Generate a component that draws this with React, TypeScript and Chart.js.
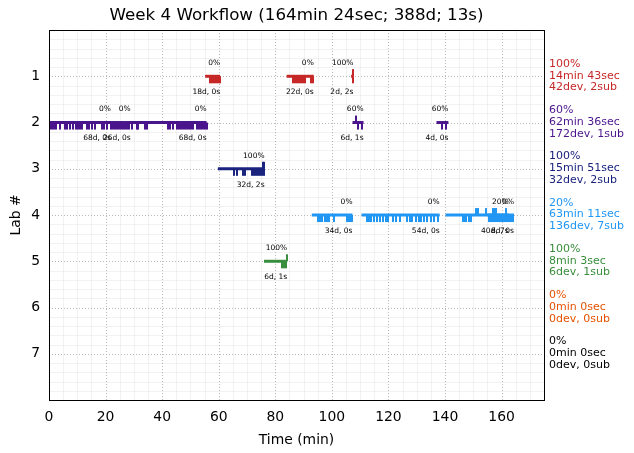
import React, { useEffect, useRef } from "react";
import { Chart, registerables } from "chart.js";

Chart.register(...registerables);

const FONT = '"DejaVu Sans", "Liberation Sans", sans-serif';
const TITLE = "Week 4 Workflow (164min 24sec; 388d; 13s)";

// Per-lab summary (right side)
const labs = [1, 2, 3, 4, 5, 6, 7];
const labColors = ["#c62828", "#4a148c", "#1a237e", "#2196f3", "#388e3c", "#e65100", "#000000"];
const labScore = ["100%", "60%", "100%", "20%", "100%", "0%", "0%"];
const labTime = ["14min 43sec", "62min 36sec", "15min 51sec", "63min 11sec", "8min 3sec", "0min 0sec", "0min 0sec"];
const labWork = ["42dev, 2sub", "172dev, 1sub", "32dev, 2sub", "136dev, 7sub", "6dev, 1sub", "0dev, 0sub", "0dev, 0sub"];

// Sessions
const sessionLab = [1, 1, 1, 2, 2, 2, 2, 2, 3, 4, 4, 4, 4, 5];
const sessionStart = [55.2, 84.0, 106.8, 0.0, 20.5, 28.5, 107.3, 137.0, 59.7, 92.9, 110.5, 140.2, 155.0, 76.0];
const sessionEnd = [60.5, 93.6, 107.6, 21.9, 28.9, 55.7, 111.2, 141.2, 76.2, 107.3, 138.1, 162.5, 164.4, 84.2];
const sessionScore = [0, 0, 100, 0, 0, 0, 60, 60, 100, 0, 0, 20, 0, 100];
const sessionDevs = [18, 22, 2, 68, 26, 68, 6, 4, 32, 34, 54, 40, 8, 6];
const sessionSubs = [0, 0, 2, 0, 0, 0, 1, 0, 2, 0, 0, 7, 0, 1];

// Development events (ticks below the line), minutes
const lab1Devs = [56.9, 57.6, 58.3, 59.0, 59.7, 60.3, 86.2, 86.9, 87.6, 88.3, 89.0, 89.7, 90.4, 92.5, 93.2, 107.3];
const lab2Devs = [0.3, 1.1, 1.8, 2.5, 3.9, 5.6, 6.4, 7.4, 8.5, 9.5, 10.2, 10.9, 11.7, 13.4, 14.1, 15.2, 16.2, 18.7, 19.4, 20.5,
  21.9, 22.6, 23.3, 24.0, 24.7, 25.4, 26.1, 26.8, 27.5, 28.2, 29.3, 31.1, 31.4, 33.9, 34.6, 42.0, 42.7, 43.8, 45.2, 45.9,
  46.6, 47.3, 48.0, 48.7, 49.4, 50.1, 50.8, 52.3, 53.0, 53.7, 54.4, 55.1, 55.8, 109.1, 110.6, 138.8, 140.5];
const lab3Devs = [65.3, 66.3, 68.6, 69.3, 71.7, 72.4, 73.1, 73.8, 74.5, 75.2, 75.9];
const lab4Devs = [95.0, 95.7, 96.4, 97.5, 98.2, 98.9, 100.9, 105.2, 105.9, 106.6, 107.2,
  112.6, 113.3, 114.0, 115.0, 116.0, 117.0, 118.0, 119.2, 120.0, 121.5, 122.5, 124.0, 126.4, 127.5, 128.5, 129.7, 130.8,
  131.5, 132.5, 133.8, 135.0, 136.2, 137.5,
  146.2, 146.9, 147.6, 148.6, 149.3, 155.7, 156.4, 157.1, 157.8, 158.5, 159.2, 159.9, 160.6, 161.3, 162.0, 162.7, 163.4, 164.1];
const lab5Devs = [82.3, 83.0, 83.7];

// Submissions (ticks above the line), minutes
const lab1Subs = [107.3, 107.35];
const lab2Subs = [108.6];
const lab3Subs = [75.7, 76.1];
const lab4Subs = [151.1, 151.8, 154.6, 156.8, 157.5, 158.2, 161.4];
const lab5Subs = [84.0];

const devsByLab = [lab1Devs, lab2Devs, lab3Devs, lab4Devs, lab5Devs, [], []];
const subsByLab = [lab1Subs, lab2Subs, lab3Subs, lab4Subs, lab5Subs, [], []];

const X_MAX = 175;
const Y_MAX = 8;

function tickImage(color: string, up: boolean): HTMLCanvasElement {
  const c = document.createElement("canvas");
  c.width = 2;
  c.height = 16;
  const g = c.getContext("2d")!;
  g.fillStyle = color;
  if (up) g.fillRect(0, 1, 2, 7);
  else g.fillRect(0, 8, 2, 7);
  return c;
}

const overlayPlugin = {
  id: "overlay",
  beforeDatasetsDraw(chart: any) {
    const { ctx, chartArea: a, scales } = chart;
    const x = scales.x;
    const y = scales.y;
    ctx.save();
    // minor grid
    ctx.lineWidth = 1;
    ctx.strokeStyle = "rgba(0,0,0,0.05)";
    x.ticks.forEach((t: any) => {
      if (t.value % 20 !== 0 && t.value < X_MAX) {
        const px = Math.round(x.getPixelForValue(t.value)) + 0.5;
        ctx.beginPath();
        ctx.moveTo(px, a.top);
        ctx.lineTo(px, a.bottom);
        ctx.stroke();
      }
    });
    y.ticks.forEach((t: any) => {
      if (!Number.isInteger(t.value)) {
        const py = Math.round(y.getPixelForValue(t.value)) + 0.5;
        ctx.beginPath();
        ctx.moveTo(a.left, py);
        ctx.lineTo(a.right, py);
        ctx.stroke();
      }
    });
    // major grid (dotted)
    ctx.strokeStyle = "#b0b0b0";
    ctx.lineWidth = 0.9;
    ctx.setLineDash([1, 2]);
    x.ticks.forEach((t: any) => {
      if (t.value % 20 === 0 && t.value > 0) {
        const px = Math.round(x.getPixelForValue(t.value)) + 0.5;
        ctx.beginPath();
        ctx.moveTo(px, a.top);
        ctx.lineTo(px, a.bottom);
        ctx.stroke();
      }
    });
    y.ticks.forEach((t: any) => {
      if (Number.isInteger(t.value) && t.value > 0 && t.value < Y_MAX) {
        const py = Math.round(y.getPixelForValue(t.value)) + 0.5;
        ctx.beginPath();
        ctx.moveTo(a.left, py);
        ctx.lineTo(a.right, py);
        ctx.stroke();
      }
    });
    ctx.restore();
  },
  afterDatasetsDraw(chart: any) {
    const { ctx, chartArea: a, scales } = chart;
    const x = scales.x;
    const y = scales.y;
    ctx.save();
    // frame
    ctx.strokeStyle = "#000";
    ctx.lineWidth = 1;
    ctx.strokeRect(Math.round(a.left) + 0.5, Math.round(a.top) + 0.5, Math.round(a.right - a.left), Math.round(a.bottom - a.top));
    // session labels
    ctx.fillStyle = "#000";
    ctx.font = `7.5px ${FONT}`;
    ctx.textAlign = "right";
    ctx.textBaseline = "middle";
    sessionLab.forEach((lab, i) => {
      const px = x.getPixelForValue(sessionEnd[i]);
      const py = y.getPixelForValue(lab);
      ctx.fillText(`${sessionScore[i]}%`, px, py - 13);
      ctx.fillText(`${sessionDevs[i]}d, ${sessionSubs[i]}s`, px, py + 16);
    });
    // right-side summaries
    ctx.font = `11px ${FONT}`;
    ctx.textAlign = "left";
    labs.forEach((lab, i) => {
      const py = y.getPixelForValue(lab) - 0.5;
      ctx.fillStyle = labColors[i];
      ctx.fillText(labScore[i], a.right + 5, py - 11.8);
      ctx.fillText(labTime[i], a.right + 5, py);
      ctx.fillText(labWork[i], a.right + 5, py + 11.8);
    });
    ctx.restore();
  },
};

export default function App() {
  const ref = useRef<HTMLCanvasElement | null>(null);

  useEffect(() => {
    if (!ref.current) return;
    const datasets: any[] = [];
    sessionLab.forEach((lab, i) => {
      datasets.push({
        type: "line",
        data: [
          { x: sessionStart[i], y: lab },
          { x: sessionEnd[i], y: lab },
        ],
        borderColor: labColors[lab - 1],
        borderWidth: 3,
        borderCapStyle: "butt",
        pointRadius: 0,
        tension: 0,
        fill: false,
      });
    });
    labs.forEach((lab, i) => {
      if (devsByLab[i].length) {
        datasets.push({
          type: "line",
          showLine: false,
          data: devsByLab[i].map((t) => ({ x: t, y: lab })),
          pointStyle: tickImage(labColors[i], false),
          pointRadius: 3,
          borderColor: labColors[i],
          backgroundColor: labColors[i],
        });
      }
      if (subsByLab[i].length) {
        datasets.push({
          type: "line",
          showLine: false,
          data: subsByLab[i].map((t) => ({ x: t, y: lab })),
          pointStyle: tickImage(labColors[i], true),
          pointRadius: 3,
          borderColor: labColors[i],
          backgroundColor: labColors[i],
        });
      }
    });

    const chart = new Chart(ref.current, {
      type: "line",
      data: { datasets },
      options: {
        animation: false,
        responsive: false,
        devicePixelRatio: 1,
        events: [],
        layout: { padding: { top: 0, right: 90, bottom: 0, left: 0 } },
        plugins: {
          legend: { display: false },
          tooltip: { enabled: false },
          title: {
            display: true,
            text: TITLE,
            fullSize: false,
            color: "#000",
            font: { family: FONT, size: 16.7, weight: "normal" },
            padding: { top: 6, bottom: 4 },
          },
        },
        scales: {
          x: {
            type: "linear",
            min: 0,
            max: X_MAX,
            grid: { display: false, drawTicks: false },
            border: { display: false },
            ticks: {
              stepSize: 5,
              autoSkip: false,
              maxRotation: 0,
              padding: 9,
              color: "#000",
              font: { family: FONT, size: 13.9 },
              callback: (v: any) => (Number(v) % 20 === 0 ? String(v) : ""),
            },
            title: {
              display: true,
              text: "Time (min)",
              color: "#000",
              font: { family: FONT, size: 13.9 },
              padding: { top: 0, bottom: 4 },
            },
            afterFit: (s: any) => {
              s.height = 53;
            },
          },
          y: {
            type: "linear",
            reverse: true,
            min: 0,
            max: Y_MAX,
            grid: { display: false, drawTicks: false },
            border: { display: false },
            ticks: {
              stepSize: 0.2,
              autoSkip: false,
              padding: 9,
              color: "#000",
              font: { family: FONT, size: 13.9 },
              callback: (v: any) => {
                const n = Number(v);
                return Number.isInteger(n) && n >= 1 && n <= 7 ? String(n) : "";
              },
            },
            title: {
              display: true,
              text: "Lab #",
              color: "#000",
              font: { family: FONT, size: 13.9 },
              padding: { top: 8, bottom: 0 },
            },
            afterFit: (s: any) => {
              s.width = 49;
            },
          },
        },
      } as any,
      plugins: [overlayPlugin],
    });
    return () => chart.destroy();
  }, []);

  return (
    <div style={{ position: "absolute", left: 0, top: 0, width: 634, height: 453, background: "#fff" }}>
      <canvas ref={ref} width={634} height={453} style={{ display: "block" }} />
    </div>
  );
}
